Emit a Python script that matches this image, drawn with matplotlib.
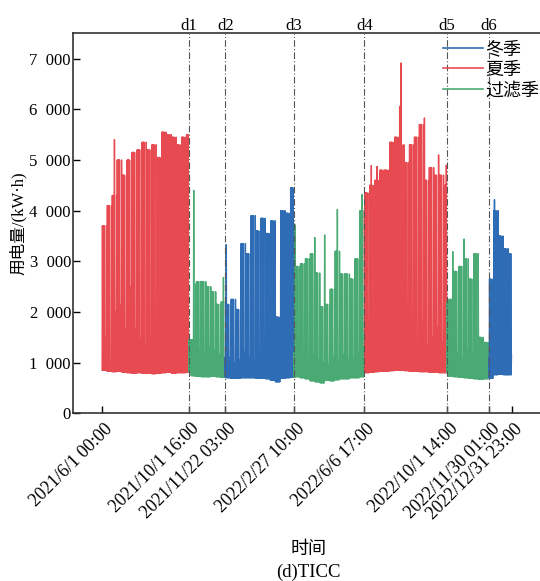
import numpy as np
import pandas as pd
import matplotlib
matplotlib.use("Agg")
import matplotlib.pyplot as plt
import matplotlib.transforms as mtransforms
from matplotlib.lines import Line2D
from matplotlib.ticker import FuncFormatter

plt.rcParams['font.family'] = ['Liberation Serif', 'Noto Sans CJK SC']
plt.rcParams['font.size'] = 12

# ---------------- data ----------------
start_date = "2021-06-01 00:00"
end_date = "2022-12-31 23:00"

# season boundaries (d1..d6) and tick labels
boundaries = ["2021-06-01 00:00", "2021-10-01 16:00", "2021-11-22 03:00", "2022-02-27 10:00",
              "2022-06-06 17:00", "2022-10-01 14:00", "2022-11-30 01:00", "2022-12-31 23:00"]
tick_labels = ["2021/6/1 00:00", "2021/10/1 16:00", "2021/11/22 03:00", "2022/2/27 10:00",
               "2022/6/6 17:00", "2022/10/1 14:00", "2022/11/30 01:00", "2022/12/31 23:00"]
boundary_names = ["d1", "d2", "d3", "d4", "d5", "d6"]
segment_season = ["夏季", "过滤季", "冬季", "过滤季", "夏季", "过滤季", "冬季"]

# weekly working-day peak load (kW·h), 83 weeks starting 2021-06-01
week_peak = [3700, 4100, 4300, 5000, 4700, 5000, 5150, 5200, 5350, 5200, 5300, 5050, 5550, 5500,
             5450, 5300, 5450, 5500,
             2550, 2600, 2600, 2500, 2400, 2150, 2200,
             2150, 2250, 2050, 3350, 3150, 3900, 3600, 3850, 3550, 3800, 1900, 4000, 3950, 4450,
             2900, 2950, 3050, 3150, 2770, 2100, 2150, 2450, 3200, 2750, 2750, 2650, 3050, 4000,
             4350, 4500, 4600, 4800, 4800, 5350, 5450, 5300, 4950, 5300, 5450, 5700, 4600, 4850,
             4700, 4700, 4500,
             2250, 2800, 2900, 3050, 2650, 3150, 1500, 1400, 2650,
             4000, 3500, 3250, 3150]
# weekly weekend peak load
week_weekend = [1500, 960, 2000, 2140, 1670, 2500, 1670, 1460, 1350, 1500, 1390, 1740, 2400, 1500,
                1600, 1900, 1500, 1450,
                1300, 1250, 1200, 1300, 1250, 1150, 1100,
                1100, 1000, 1050, 1200, 1100, 1000, 1150, 1050, 1200, 1000, 1100, 1150, 1050, 1200,
                1200, 1100, 1000, 1150, 1050, 1000, 950, 1100, 1000, 1150, 1050, 1100, 1200, 1300,
                1800, 1500, 1900, 1400, 1700, 1300, 1900, 1500, 1250, 1600, 1400, 1800, 1350, 1500,
                1700, 1400, 1600,
                1300, 1200, 1100, 1250, 1150, 1200, 1000, 950, 900,
                1200, 1100, 1250, 1150]
# weekly base (night) load
week_base = [850, 830, 820, 830, 810, 800, 790, 800, 790, 790, 780, 790, 800, 810, 790, 800, 800, 810,
             740, 730, 720, 720, 730, 720, 710,
             700, 690, 690, 700, 700, 700, 690, 690, 680, 650, 620, 690, 700, 710,
             720, 700, 680, 640, 620, 600, 650, 640, 660, 680, 680, 700, 700, 720,
             800, 810, 820, 830, 830, 840, 850, 850, 840, 830, 830, 820, 820, 810, 810, 800, 800,
             730, 720, 710, 700, 690, 680, 670, 680, 690,
             760, 770, 760, 760]
# single-day peaks / holidays
day_override_dates = ["2021-06-18", "2021-10-01", "2021-10-02", "2021-10-03", "2021-10-04",
                      "2021-10-05", "2021-10-06", "2021-10-07", "2021-10-08", "2021-11-19",
                      "2021-11-23", "2022-02-28", "2022-03-28", "2022-04-11", "2022-04-29",
                      "2022-06-03", "2022-06-16", "2022-06-24", "2022-07-26", "2022-07-28",
                      "2022-08-30", "2022-09-19", "2022-09-30", "2022-10-01", "2022-10-02",
                      "2022-10-03", "2022-10-09", "2022-10-25", "2022-11-29", "2022-12-07"]
day_override_values = [5400, 1450, 1450, 1450, 1450, 1450, 1450, 1450, 4400, 2680,
                       3325, 3720, 3470, 3520, 4020,
                       4320, 4890, 4870, 6060, 6915,
                       5830, 5100, 4900, 2200, 2200,
                       2200, 3190, 3440, 1100, 4215]

season_colors = {"冬季": "#2E6DB5", "夏季": "#E84A51", "过滤季": "#4AAA74"}
legend_order = ["冬季", "夏季", "过滤季"]

# ---------------- build series ----------------
days = pd.date_range(start_date[:10], end_date[:10], freq="D")
n = len(days)
idx = np.arange(n)
wk = idx // 7
rest = np.isin(idx % 7, [4, 5])          # Saturday, Sunday
peak = np.where(rest, np.array(week_weekend)[wk], np.array(week_peak)[wk]).astype(float)
base = np.array(week_base)[wk].astype(float)
ov = pd.Series(day_override_values, index=pd.to_datetime(day_override_dates))
for d, v in ov.items():
    peak[days.get_loc(d)] = v

t_base = days + pd.Timedelta(hours=4)
t_peak = days + pd.Timedelta(hours=14)
times = np.empty(2 * n, dtype="datetime64[ns]")
vals = np.empty(2 * n)
times[0::2] = t_base.values
times[1::2] = t_peak.values
vals[0::2] = base
vals[1::2] = peak
times = pd.to_datetime(times)

# ---------------- figure ----------------
fig = plt.figure(figsize=(5.40, 5.81), dpi=100)
ax = fig.add_axes([73 / 540, 1 - 413.3 / 581, 472 / 540, 380 / 581])

bnd = pd.to_datetime(boundaries)
for i, season in enumerate(segment_season):
    s, e = bnd[i], bnd[i + 1]
    m = (times >= s) & (times <= e)
    ii = np.where(m)[0]
    if i > 0:
        ii = np.r_[ii[0] - 1, ii]
    ax.plot(times[ii], vals[ii], color=season_colors[season], lw=1.0, zorder=2)

for b, name in zip(bnd[1:-1], boundary_names):
    ax.axvline(b, color="#555555", lw=0.8, ls=(0, (6, 2, 1, 2)), zorder=3)
    ax.text(b, (413.3 - 30) / 380, name, transform=ax.get_xaxis_transform(), ha="center",
            va="baseline", fontsize=12)

x0 = bnd[0] - pd.Timedelta(days=41)
x1 = bnd[-1] + pd.Timedelta(days=47)
ax.set_xlim(x0, x1)
ax.set_ylim(0, 7500)
ax.set_yticks([0, 1000, 2000, 3000, 4000, 5000, 6000, 7000])
ax.yaxis.set_major_formatter(FuncFormatter(lambda v, p: f"{int(v):,}".replace(",", "\u2002")))
ax.set_xticks(bnd)
ax.set_xticklabels(tick_labels, rotation=45, ha="right", va="top", rotation_mode="anchor",
                   fontsize=13)
ax.tick_params(direction="in", length=5, width=1, labelsize=12, colors="black")
ax.tick_params(axis="y", pad=1.5)
ax.tick_params(axis="x", pad=5, labelsize=13)
shift = mtransforms.ScaledTranslation(2 / 100, 0, fig.dpi_scale_trans)
for lab in ax.get_xticklabels():
    lab.set_transform(lab.get_transform() + shift)
ax.spines["right"].set_visible(False)
for sp in ["left", "bottom", "top"]:
    ax.spines[sp].set_linewidth(1.2)
    ax.spines[sp].set_color("#333333")

ax.set_ylabel("用电量/(kW·h)", fontsize=12)
ax.yaxis.set_label_coords(-0.097, 0.5)
ax.set_xlabel("时间", fontsize=13)
ax.xaxis.set_label_coords(0.5, -0.335)
fig.text(308 / 540, 1 - 572 / 581, "(d)TICC", ha="center", va="center", fontsize=13.5)

handles = [Line2D([], [], color=season_colors[s], lw=1.2) for s in legend_order]
ax.legend(handles, legend_order, loc="upper right", bbox_to_anchor=(539 / 540, 1 - 41 / 581),
          bbox_transform=fig.transFigure, frameon=False, fontsize=13, handlelength=2.2,
          handletextpad=0.1, labelspacing=0.2, borderaxespad=0, borderpad=0)

fig.savefig("out.png", dpi=100)
